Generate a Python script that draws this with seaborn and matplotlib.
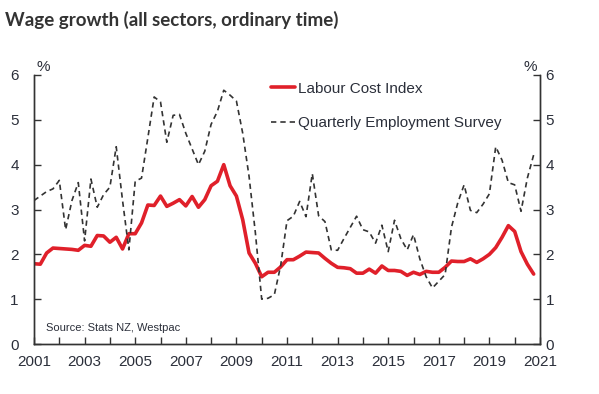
import numpy as np
import pandas as pd
import matplotlib.pyplot as plt
import seaborn as sns

# Wage growth, annual %, quarterly from 2001 Q1
lci = [1.79, 1.78, 2.03, 2.14, 2.13, 2.12, 2.11, 2.09, 2.20, 2.18,
       2.42, 2.41, 2.27, 2.38, 2.12, 2.46, 2.46, 2.70, 3.10, 3.09,
       3.30, 3.07, 3.14, 3.22, 3.08, 3.29, 3.05, 3.22, 3.53, 3.63,
       4.00, 3.53, 3.30, 2.77, 2.03, 1.80, 1.50, 1.60, 1.60, 1.72,
       1.88, 1.88, 1.96, 2.05, 2.04, 2.03, 1.91, 1.80, 1.71, 1.70,
       1.68, 1.58, 1.58, 1.67, 1.58, 1.74, 1.64, 1.64, 1.62, 1.53,
       1.60, 1.55, 1.62, 1.60, 1.60, 1.71, 1.85, 1.84, 1.84, 1.90,
       1.82, 1.90, 2.00, 2.15, 2.38, 2.64, 2.51, 2.06, 1.78, 1.56]
qes = [3.20, 3.30, 3.40, 3.46, 3.65, 2.55, 3.20, 3.60, 2.30, 3.68,
       3.05, 3.33, 3.50, 4.40, 3.20, 2.10, 3.63, 3.70, 4.60, 5.51,
       5.40, 4.50, 5.10, 5.12, 4.70, 4.35, 4.00, 4.30, 4.90, 5.19,
       5.66, 5.55, 5.42, 4.70, 3.74, 2.48, 1.00, 1.02, 1.10, 1.75,
       2.75, 2.85, 3.18, 2.84, 3.80, 2.86, 2.73, 2.10, 2.09, 2.35,
       2.60, 2.85, 2.55, 2.50, 2.25, 2.65, 2.06, 2.76, 2.35, 2.10,
       2.44, 1.90, 1.50, 1.25, 1.40, 1.55, 2.60, 3.15, 3.55, 2.98,
       2.93, 3.12, 3.35, 4.40, 4.10, 3.60, 3.55, 2.96, 3.70, 4.22]
quarters = 2001 + np.arange(len(lci)) / 4
years = list(range(2001, 2022))
y_ticks = list(range(0, 7))

df = pd.DataFrame({"date": quarters, "lci": lci, "qes": qes})

sns.set_style("white")
plt.rcParams['font.family'] = ['Liberation Sans', 'DejaVu Sans']
text_col = "#2b2f3a"
axis_col = "#333333"

fig = plt.figure(figsize=(5.99, 3.94), dpi=100)
ax = fig.add_axes([34 / 599, 1 - 344 / 394, (540 - 34) / 599, (344 - 75) / 394])

sns.lineplot(data=df, x="date", y="lci", ax=ax, color="#e0202a", lw=2.6,
             label="Labour Cost Index")
sns.lineplot(data=df, x="date", y="qes", ax=ax, color=axis_col, lw=1.2,
             ls=(0, (3.2, 2.4)), label="Quarterly Employment Survey")

ax.set_xlim(2001, 2021)
ax.set_ylim(0, 6)
ax.set_xticks(years)
ax.set_xticklabels([str(y) if (y - 2001) % 2 == 0 else "" for y in years])
ax.set_yticks(y_ticks)
ax.set_xlabel("")
ax.set_ylabel("")

# right-hand axis repeats the same scale
ax2 = ax.twinx()
ax2.set_ylim(0, 6)
ax2.set_yticks(y_ticks)
ax2.grid(False)

for a in (ax, ax2):
    for side in ["left", "right", "bottom"]:
        a.spines[side].set_visible(True)
        a.spines[side].set_color(axis_col)
        a.spines[side].set_linewidth(1.0)
    a.spines["top"].set_visible(False)

ax.tick_params(axis="both", direction="in", length=5, width=1, color=axis_col,
               labelsize=11, labelcolor=text_col)
ax.tick_params(axis="y", left=True, right=False, pad=11)
ax.tick_params(axis="x", bottom=True, pad=8)
ax2.tick_params(axis="y", direction="in", length=5, width=1, color=axis_col,
                labelsize=11, labelcolor=text_col, right=True, pad=4)

ax.text(0.005, 1.005, "%", transform=ax.transAxes, fontsize=11, color=text_col,
        ha="left", va="bottom")
ax.text(0.995, 1.005, "%", transform=ax.transAxes, fontsize=11, color=text_col,
        ha="right", va="bottom")
ax.text(0.024, 0.06, "Source: Stats NZ, Westpac", transform=ax.transAxes,
        fontsize=8, color=text_col, ha="left", va="center")

leg = ax.legend(loc="upper left", bbox_to_anchor=(0.468, 0.975), frameon=False,
                fontsize=11, handlelength=1.6, handletextpad=0.15,
                labelspacing=1.35, borderaxespad=0, borderpad=0)
for t in leg.get_texts():
    t.set_color(text_col)

fig.text(5 / 599, 1 - 26 / 394, "Wage growth (all sectors, ordinary time)",
         fontsize=13.5, fontweight="bold", color=axis_col, family="Lato",
         ha="left", va="baseline")

fig.savefig("out.png", dpi=100)
